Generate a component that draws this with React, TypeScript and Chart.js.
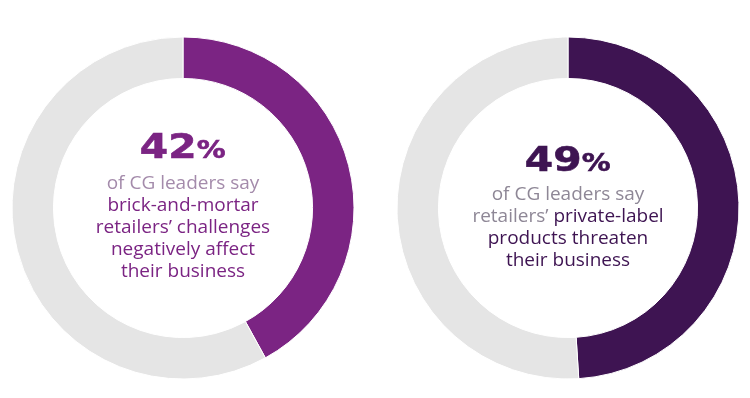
import React, { useEffect, useRef } from "react";
import { Chart, registerables } from "chart.js";

Chart.register(...registerables);

const leftLabels = ["Negatively affected", "Other"];
const leftValues = [42, 58];
const rightLabels = ["Threatened", "Other"];
const rightValues = [49, 51];

const leftColors = ["#7b2483", "#e5e5e5"];
const rightColors = ["#3e1452", "#e5e5e5"];

function Donut({ labels, values, colors, left }: { labels: string[]; values: number[]; colors: string[]; left: number }) {
  const ref = useRef<HTMLCanvasElement | null>(null);
  useEffect(() => {
    if (!ref.current) return;
    const chart = new Chart(ref.current, {
      type: "doughnut",
      data: {
        labels,
        datasets: [
          {
            data: values,
            backgroundColor: colors,
            borderColor: "#ffffff",
            borderWidth: 1,
            radius: 171,
            cutout: 136,
          } as any,
        ],
      },
      options: {
        responsive: false,
        animation: false,
        events: [],
        plugins: { legend: { display: false }, tooltip: { enabled: false } },
        layout: { padding: 0 },
      },
    });
    return () => chart.destroy();
  }, []);
  return (
    <canvas
      ref={ref}
      width={360}
      height={360}
      style={{ position: "absolute", left, top: 28, width: 360, height: 360 }}
    />
  );
}

const bigStyle: React.CSSProperties = {
  position: "absolute",
  width: 300,
  textAlign: "center",
  fontFamily: "'DejaVu Sans', sans-serif",
  fontWeight: 700,
  fontSize: 34,
  lineHeight: "34px",
  whiteSpace: "nowrap",
};

const bodyStyle: React.CSSProperties = {
  position: "absolute",
  width: 300,
  textAlign: "center",
  fontFamily: "'Open Sans', sans-serif",
  fontSize: 19,
  lineHeight: "22px",
  whiteSpace: "nowrap",
};

export default function App() {
  return (
    <div style={{ position: "absolute", left: 0, top: 0, width: 750, height: 398, background: "#fff", overflow: "hidden" }}>
      <Donut labels={leftLabels} values={leftValues} colors={leftColors} left={3} />
      <Donut labels={rightLabels} values={rightValues} colors={rightColors} left={388} />

      <div style={{ ...bigStyle, left: 33, top: 129, color: "#7b2483" }}>
        <span style={{ display: "inline-block", transform: "scaleX(1.2)", transformOrigin: "center", WebkitTextStroke: "0.6px #7b2483" }}>
          {leftValues[0]}
          <span style={{ fontSize: 24 }}>%</span>
        </span>
      </div>
      <div style={{ ...bodyStyle, left: 33, top: 171, color: "#7b2483" }}>
        <div style={{ color: "#a48bab" }}>of CG leaders say</div>
        <div>brick-and-mortar</div>
        <div>retailers’ challenges</div>
        <div>negatively affect</div>
        <div>their business</div>
      </div>

      <div style={{ ...bigStyle, left: 418, top: 142, color: "#3e1452" }}>
        <span style={{ display: "inline-block", transform: "scaleX(1.2)", transformOrigin: "center", WebkitTextStroke: "0.6px #3e1452" }}>
          {rightValues[0]}
          <span style={{ fontSize: 24 }}>%</span>
        </span>
      </div>
      <div style={{ ...bodyStyle, left: 418, top: 182, color: "#3e1452" }}>
        <div style={{ color: "#8e8796" }}>of CG leaders say</div>
        <div>
          <span style={{ color: "#8e8796" }}>retailers’</span> private-label
        </div>
        <div>products threaten</div>
        <div>their business</div>
      </div>
    </div>
  );
}
